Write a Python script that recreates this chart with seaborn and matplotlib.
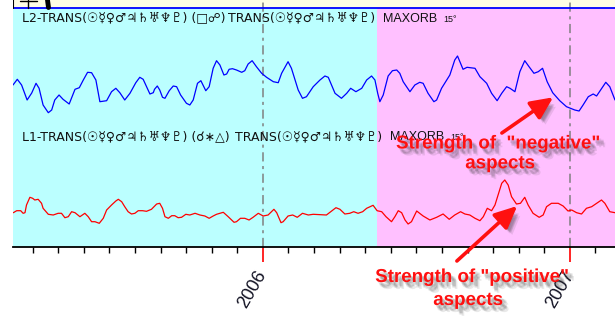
import matplotlib
matplotlib.use("Agg")
import matplotlib.pyplot as plt
import seaborn as sns
from matplotlib import patheffects as pe
from matplotlib.ticker import MultipleLocator
from matplotlib.lines import Line2D

# ---------------- data (dates in decimal years, strength in arbitrary units) ----
neg_years = [
    2005.186, 2005.200, 2005.214, 2005.232, 2005.247, 2005.261, 2005.271, 2005.284, 2005.301, 2005.312,
    2005.322, 2005.336, 2005.349, 2005.369, 2005.388, 2005.402, 2005.415, 2005.429, 2005.442, 2005.456,
    2005.469, 2005.491, 2005.507, 2005.521, 2005.534, 2005.550, 2005.567, 2005.586, 2005.599, 2005.610,
    2005.632, 2005.643, 2005.647, 2005.656, 2005.664, 2005.673, 2005.681, 2005.695, 2005.708, 2005.719,
    2005.732, 2005.751, 2005.762, 2005.773, 2005.787, 2005.798, 2005.814, 2005.825, 2005.838, 2005.849,
    2005.860, 2005.873, 2005.882, 2005.890, 2005.901, 2005.914, 2005.931, 2005.941, 2005.952, 2005.965,
    2005.979, 2005.996, 2006.012, 2006.034, 2006.050, 2006.061, 2006.082, 2006.093, 2006.115, 2006.129,
    2006.142, 2006.164, 2006.186, 2006.202, 2006.213, 2006.235, 2006.256, 2006.273, 2006.286, 2006.303,
    2006.322, 2006.338, 2006.354, 2006.365, 2006.374, 2006.381, 2006.392, 2006.408, 2006.422, 2006.436,
    2006.446, 2006.457, 2006.479, 2006.495, 2006.511, 2006.522, 2006.538, 2006.557, 2006.566, 2006.582,
    2006.609, 2006.625, 2006.634, 2006.644, 2006.652, 2006.665, 2006.691, 2006.707, 2006.729, 2006.745,
    2006.763, 2006.778, 2006.794, 2006.805, 2006.821, 2006.837, 2006.853, 2006.867, 2006.883, 2006.897,
    2006.911, 2006.926, 2006.944, 2006.967, 2006.989, 2007.016, 2007.030, 2007.043, 2007.060, 2007.076,
    2007.087, 2007.100, 2007.117, 2007.130, 2007.147,
]
neg_strength = [
    161, 166.7, 161, 146, 153, 162.7, 157.7, 141, 133.3, 136,
    146, 151, 146.7, 142, 156.7, 158.3, 166, 173.7, 173.3, 166,
    144.3, 145.3, 154.3, 157.7, 153.3, 146, 152.7, 163.3, 168.7, 166.7,
    152, 153.3, 156.7, 160, 156, 148.7, 147.7, 155.3, 160, 159.3,
    151, 142.7, 141, 146, 162.7, 165.3, 155.3, 159.3, 177.7, 185.3,
    181, 171, 172, 176.7, 177.3, 176, 173.7, 175.3, 182, 185.3,
    179.3, 172.7, 168.7, 164.3, 163.3, 172.7, 184.3, 177.7, 156, 147.7,
    149.3, 159.3, 166, 170, 168.7, 152.7, 147.7, 152.7, 157.7, 154.3,
    157.7, 166, 170, 166, 152.7, 144.3, 151, 170, 175.3, 176,
    172.7, 164.3, 154.3, 161, 163.7, 162.7, 152.7, 144.3, 146, 157.7,
    171, 186, 190, 182.7, 176.7, 178.7, 177.7, 169.3, 162.7, 152.7,
    145.3, 152.7, 159.3, 157.7, 154.3, 174.3, 185.3, 179.3, 172.7, 174.3,
    177.7, 164.3, 153.3, 145.3, 139.3, 136, 135, 141, 149.3, 152,
    150, 156, 163.7, 159.3, 146,
]
pos_years = [
    2005.187, 2005.198, 2005.211, 2005.219, 2005.225, 2005.230, 2005.241, 2005.250, 2005.257, 2005.268,
    2005.279, 2005.284, 2005.301, 2005.317, 2005.333, 2005.344, 2005.355, 2005.366, 2005.377, 2005.388,
    2005.404, 2005.420, 2005.431, 2005.442, 2005.453, 2005.467, 2005.480, 2005.491, 2005.507, 2005.521,
    2005.529, 2005.540, 2005.550, 2005.561, 2005.572, 2005.583, 2005.594, 2005.608, 2005.621, 2005.637,
    2005.654, 2005.664, 2005.673, 2005.681, 2005.692, 2005.703, 2005.713, 2005.724, 2005.735, 2005.749,
    2005.762, 2005.779, 2005.795, 2005.811, 2005.825, 2005.838, 2005.849, 2005.871, 2005.887, 2005.906,
    2005.914, 2005.927, 2005.941, 2005.955, 2005.968, 2005.985, 2006.001, 2006.017, 2006.036, 2006.045,
    2006.059, 2006.066, 2006.082, 2006.097, 2006.112, 2006.129, 2006.148, 2006.164, 2006.207, 2006.221,
    2006.238, 2006.251, 2006.267, 2006.283, 2006.296, 2006.310, 2006.325, 2006.338, 2006.359, 2006.372,
    2006.387, 2006.401, 2006.419, 2006.430, 2006.441, 2006.452, 2006.463, 2006.473, 2006.484, 2006.501,
    2006.522, 2006.544, 2006.566, 2006.587, 2006.607, 2006.625, 2006.644, 2006.658, 2006.674, 2006.691,
    2006.707, 2006.718, 2006.731, 2006.745, 2006.756, 2006.766, 2006.778, 2006.788, 2006.799, 2006.810,
    2006.826, 2006.839, 2006.853, 2006.864, 2006.880, 2006.900, 2006.913, 2006.924, 2006.940, 2006.962,
    2006.978, 2006.994, 2007.006, 2007.022, 2007.038, 2007.054, 2007.071, 2007.087, 2007.103, 2007.114,
    2007.130, 2007.147,
]
pos_strength = [
    33.3, 35.3, 35.3, 32.7, 33.3, 41, 48.7, 47.7, 46, 46.7,
    42.7, 37.7, 31.7, 31, 32.7, 32.7, 28.3, 29.3, 34.3, 33.3,
    29.3, 32.7, 29.3, 24.3, 24.3, 22.7, 27.7, 36, 41, 45,
    46.7, 44.3, 39.3, 34.3, 32, 32.7, 35.3, 35.3, 34.7, 36.7,
    42, 42.7, 37.7, 29.3, 27.7, 30.3, 30.3, 28.3, 28.7, 31.7,
    31, 32.7, 31, 30, 27.7, 30, 31.7, 33.7, 29.3, 23.7,
    24.3, 27.7, 27.7, 26, 28.7, 32.7, 30, 31, 36.7, 33.3,
    23.3, 24.3, 30, 31, 28.7, 32.7, 31, 31.7, 31, 34.3,
    38.3, 36.7, 32, 32.7, 34.3, 32.7, 34.3, 37.7, 40.7, 35.3,
    34.3, 29.3, 24.3, 29.3, 35.3, 33.3, 26, 22, 24.3, 35,
    30, 26, 28.7, 32, 26.7, 31, 34.3, 32, 31, 27.7,
    25.3, 29.3, 37.7, 35.3, 41, 51, 62.7, 66, 61, 49.3,
    42, 42.7, 48.7, 41, 32.7, 28.7, 31, 39.3, 42.7, 42.7,
    40, 35, 36, 33.3, 32, 37.7, 39.3, 42.7, 46, 42.7,
    34.3, 33.3,
]
assert len(neg_years) == len(neg_strength)
assert len(pos_years) == len(pos_strength)

year_ticks = [2006, 2007]
year_labels = ["2006", "2007"]
x_start, x_end = 2005.186, 2007.147
pink_start = 2006.372
l2_parts = ["L2-TRANS(☉☿♀♂♃♄♅♆♇) (□☍)", "TRANS(☉☿♀♂♃♄♅♆♇)", "MAXORB", "15°"]
l1_parts = ["L1-TRANS(☉☿♀♂♃♄♅♆♇) (☌∗△)", "TRANS(☉☿♀♂♃♄♅♆♇)", "MAXORB", "15°"]
neg_note = ['Strength of  "negative"', "aspects"]
pos_note = ['Strength of "positive"', "aspects"]

# ---------------- figure ----------------
sns.set_theme(style="white")
plt.rcParams["font.family"] = ["Liberation Sans", "DejaVu Sans"]

W, H = 615, 322
AX_BOTTOM = 247
fig = plt.figure(figsize=(W / 100, H / 100), dpi=100)
fig.patch.set_facecolor("white")
ax = fig.add_axes([13 / W, (H - AX_BOTTOM) / H, (W - 13) / W, AX_BOTTOM / H])
ax.set_xlim(x_start, x_end)
ax.set_ylim(-1, 246)
ax.set_facecolor("white")

top_band = 238
ax.axvspan(x_start, pink_start, ymin=0, ymax=(top_band + 1) / 247, color="#bbffff", lw=0, zorder=0)
ax.axvspan(pink_start, x_end, ymin=0, ymax=(top_band + 1) / 247, color="#ffc0ff", lw=0, zorder=0)
ax.axhspan(top_band, 246, color="#fffde4", lw=0, zorder=0)
ax.axhline(top_band, color="#0000ff", lw=1.3, zorder=2)
ax.axvline(x_start, ymin=(top_band + 1) / 247, ymax=1, color="black", lw=1.5, zorder=3)

for yr in year_ticks:
    ax.axvline(yr, color="#808080", lw=1.1, ls=(0, (6, 3, 2, 3)), zorder=1)

sns.lineplot(x=neg_years, y=neg_strength, ax=ax, color="#0000ff", lw=0.9,
             estimator=None, sort=False, zorder=4)
sns.lineplot(x=pos_years, y=pos_strength, ax=ax, color="#ff0000", lw=0.9,
             estimator=None, sort=False, zorder=4)

for s in ["top", "right", "left"]:
    ax.spines[s].set_visible(False)
ax.spines["bottom"].set_color("black")
ax.spines["bottom"].set_linewidth(1.3)
ax.set_yticks([])
ax.set_xticks(year_ticks)
ax.set_xticklabels(year_labels, rotation=60, ha="right", va="center",
                   rotation_mode="anchor", fontsize=13, color="#111122")
ax.xaxis.set_minor_locator(MultipleLocator(1 / 12))
ax.tick_params(axis="x", which="major", bottom=True, length=11, width=1.2,
               color="#ff0000", direction="out", pad=7)
ax.tick_params(axis="x", which="minor", bottom=True, length=4, width=1,
               color="black", direction="out")
ax.set_xlabel("")
ax.set_ylabel("")


def ftext(px, py, s, **kw):
    return fig.text(px / W, 1 - py / H, s, **kw)


# header labels of the two panels
for parts, base, xs in [(l2_parts, 21.7, [21.7, 228, 382.7, 443.5]),
                        (l1_parts, 140.0, [21.7, 235, 390, 450.8])]:
    for i, (p, x) in enumerate(zip(parts, xs)):
        ftext(x, base, p, fontsize=6.5 if i == 3 else 9, va="baseline", ha="left",
              color="#111111", zorder=6,
              family=["DejaVu Sans"] if i < 2 else ["Liberation Sans", "DejaVu Sans"])

# small toolbar marks at top-left
fig.add_artist(Line2D([19.5 / W, 36.5 / W], [1 - 1.2 / H, 1 - 1.2 / H], color="black", lw=1))
fig.add_artist(Line2D([28.3 / W, 28.3 / W], [1, 1 - 7.5 / H], color="black", lw=1))
fig.add_artist(Line2D([47.5 / W, 48.5 / W], [1, 1 - 7.5 / H], color="black", lw=3.5))

shadow = [pe.SimplePatchShadow(offset=o, shadow_rgbFace="#303030", alpha=0.1)
          for o in [(1.5, -2), (2.5, -3), (3.5, -4), (2.5, -4), (3.5, -3), (4.5, -5)]]
shadow.append(pe.Normal())
red = "#ff1010"

# annotation texts
for txt, cx, base in [(neg_note[0], 498, 148.5), (neg_note[1], 500, 168.3),
                      (pos_note[0], 472, 282), (pos_note[1], 468, 305)]:
    ftext(cx, base, txt, fontsize=13.5, fontweight="bold", color=red, ha="center",
          va="baseline", path_effects=shadow, zorder=7)


def px2data(px, py):
    return (2006 + (px - 263) / 307, 246 - py)


for tail, tip in [((502, 133), (553.3, 97.3)), ((457, 261), (517.3, 206))]:
    ann = ax.annotate("", xy=px2data(*tip), xytext=px2data(*tail),
                      arrowprops=dict(arrowstyle="-|>,head_length=0.75,head_width=0.35",
                                      color=red, lw=2.6, mutation_scale=18,
                                      shrinkA=0, shrinkB=0),
                      annotation_clip=False, zorder=7)
    ann.arrow_patch.set_path_effects(shadow)

fig.savefig("out.png", dpi=100, facecolor="white")
